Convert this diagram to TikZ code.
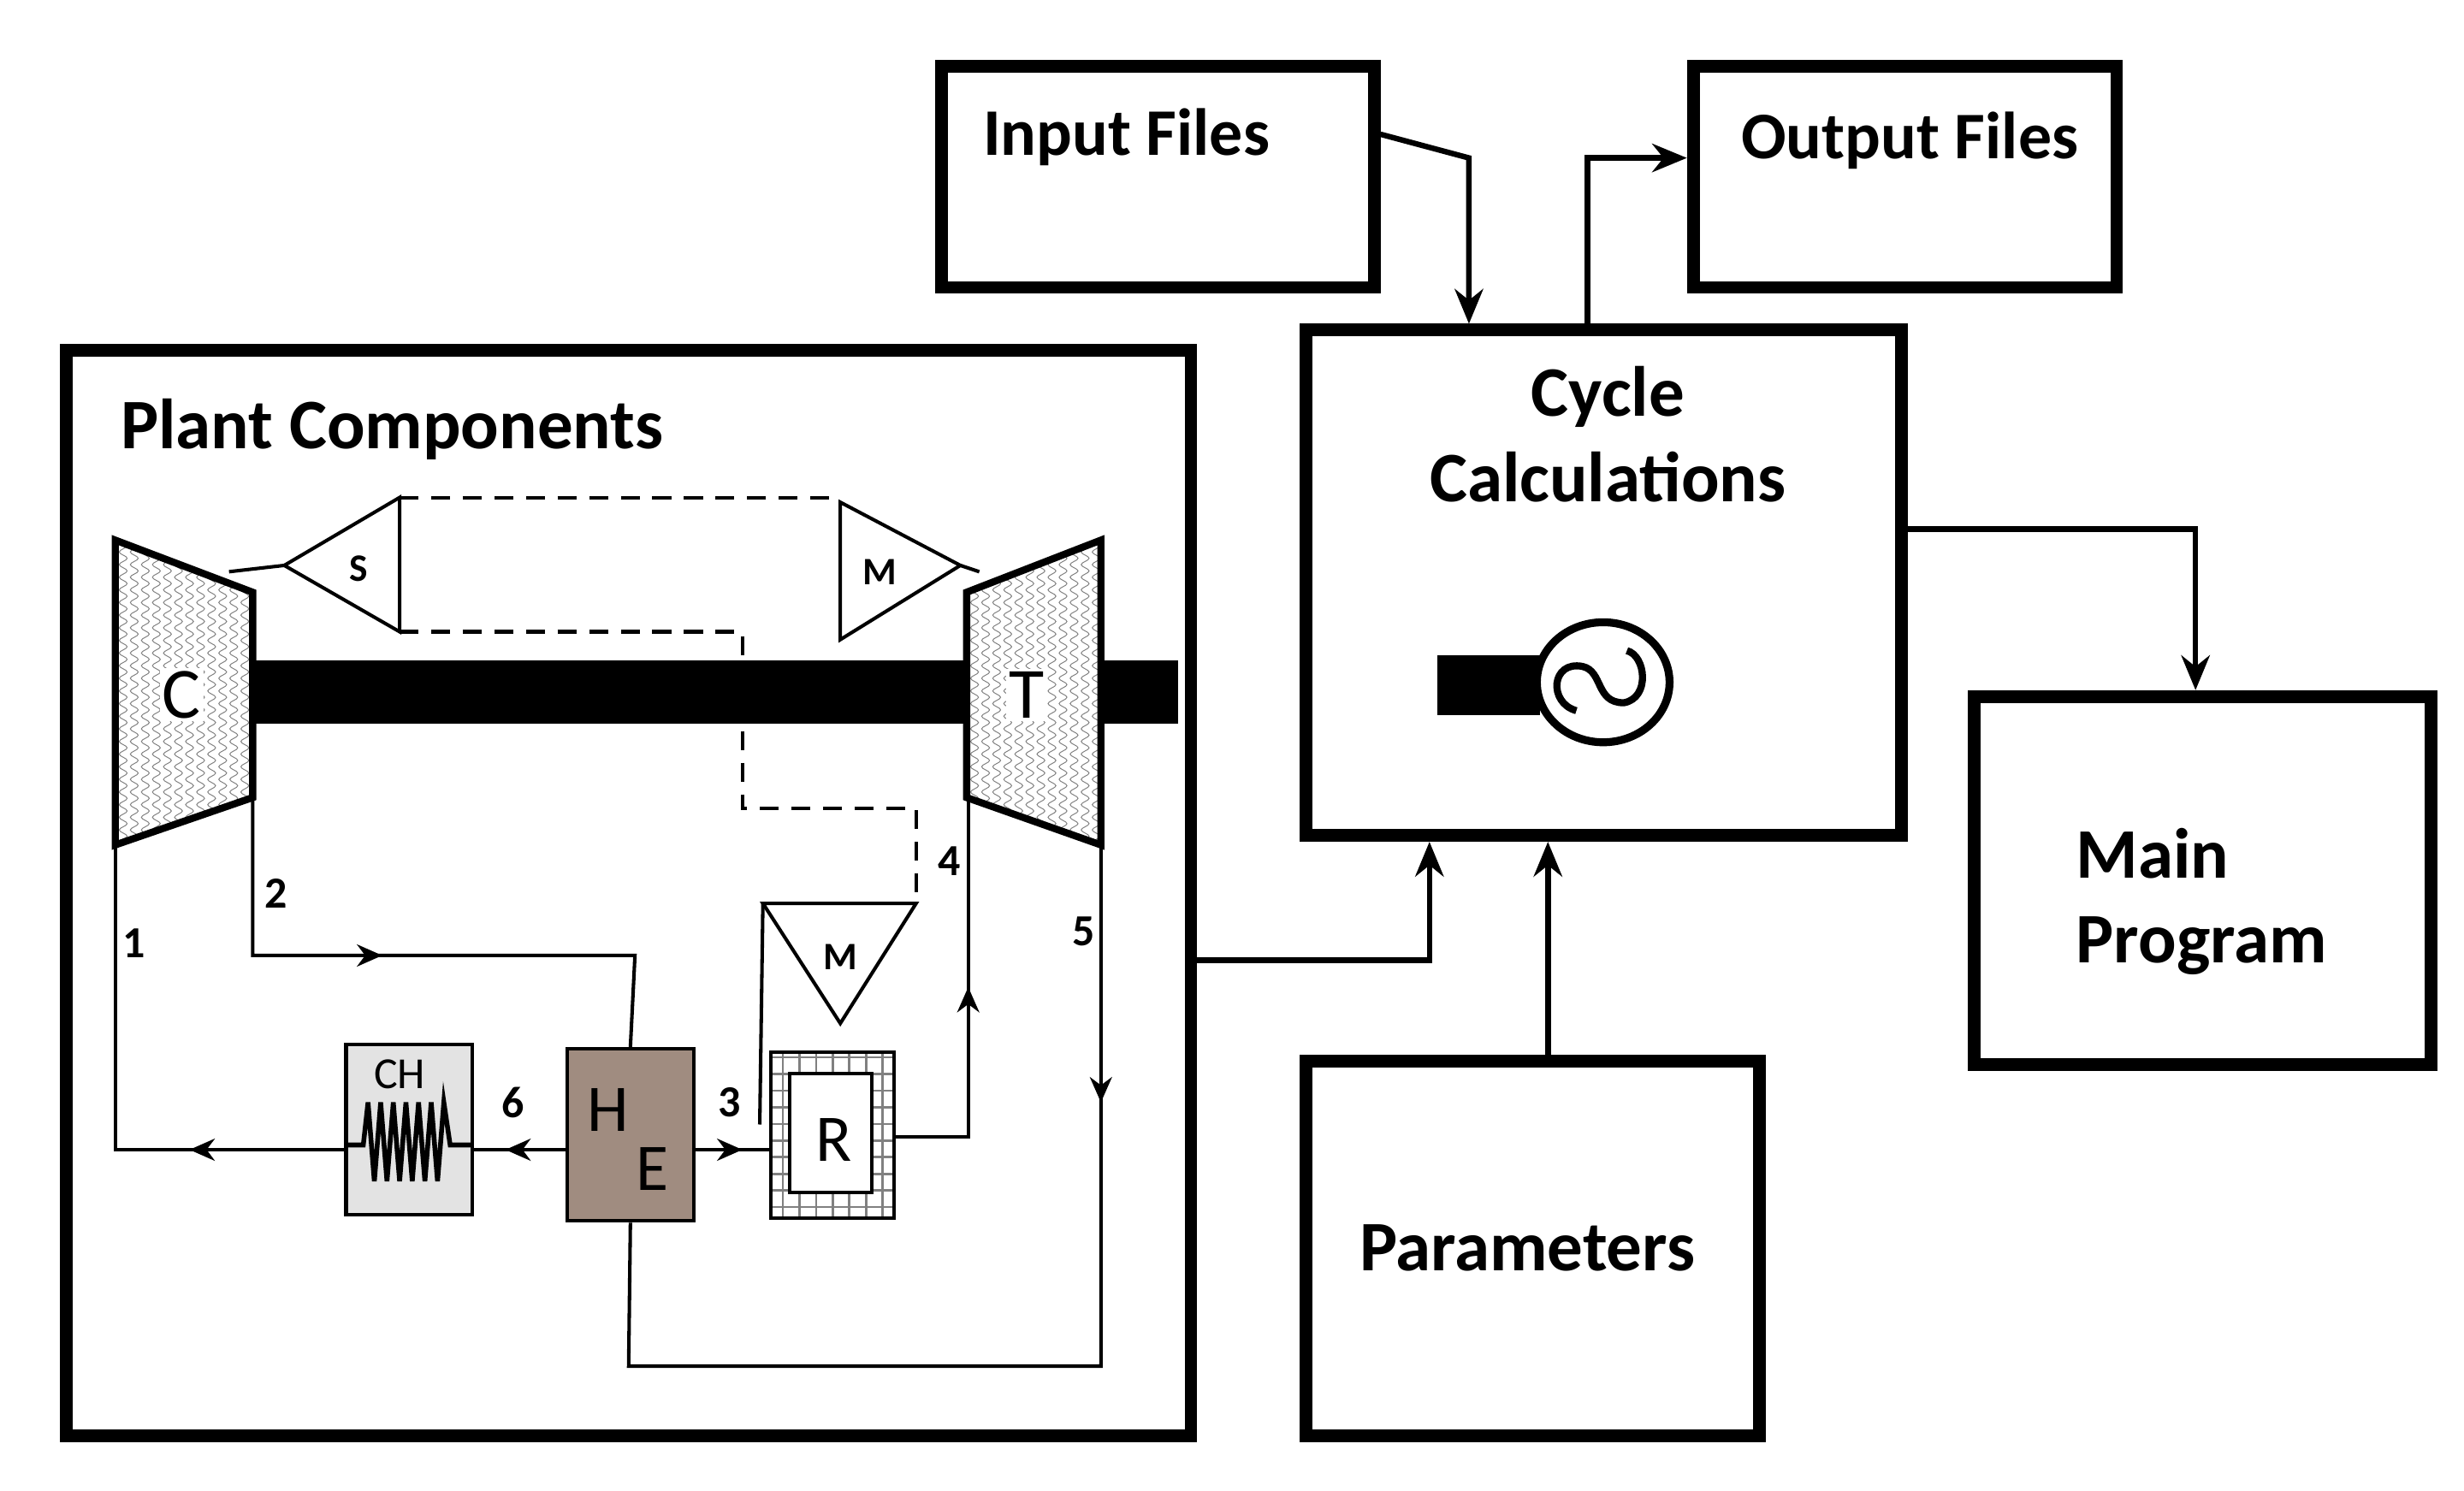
\documentclass[tikz,border=0pt]{standalone}
\usepackage{fontspec}
\setmainfont{Carlito}
\usetikzlibrary{arrows.meta,decorations.pathmorphing,patterns}
\begin{document}
\begin{tikzpicture}[
  box/.style={draw, line width=0.8mm, anchor=north west, inner sep=0pt},
  big/.style={font=\fontsize{12.8}{15.3}\selectfont\bfseries, align=left},
  conn/.style={line width=0.35mm, -{Stealth[length=2.2mm,width=1.8mm]}},
  thin/.style={line width=0.22mm},
  mid/.style={line width=0.22mm, -{Stealth[length=1.6mm,width=1.4mm]}},
  dashln/.style={line width=0.22mm, dash pattern=on 1.2mm off 0.8mm},
  lab/.style={font=\fontsize{8}{9}\selectfont\bfseries},
  wav/.style={gray, line width=0.15pt, decorate, decoration={snake, segment length=0.8mm, amplitude=0.25mm}}
]
\useasboundingbox (0,0) rectangle (15.6,-9.436);
\fill[white] (0,0) rectangle (15.6,-9.436);

% top-level boxes
\node[box, minimum width=2.74cm, minimum height=1.40cm] (inp) at (5.92,-0.38) {};
\node[big, anchor=west, font=\fontsize{12}{14}\selectfont\bfseries] (inpt) at (6.10,-0.87) {Input Files};
\node[box, minimum width=2.68cm, minimum height=1.40cm] (out) at (10.68,-0.38) {};
\node[big, anchor=west, font=\fontsize{12}{14}\selectfont\bfseries] (outt) at (10.90,-0.89) {Output Files};
\node[box, minimum width=3.77cm, minimum height=3.20cm] (cyc) at (8.23,-2.05) {};
\node[big, align=center] (cyct) at (10.18,-2.75) {Cycle\\Calculations};
\node[box, minimum width=2.89cm, minimum height=2.33cm] (mainp) at (12.46,-4.37) {};
\node[big, anchor=west] (maint) at (13.02,-5.71) {Main\\Program};
\node[box, minimum width=2.87cm, minimum height=2.37cm] (par) at (8.23,-6.68) {};
\node[big] (part) at (9.67,-7.90) {Parameters};
\node[box, minimum width=7.12cm, minimum height=6.87cm] (plant) at (0.38,-2.18) {};
\node[big, anchor=west] (plantt) at (0.64,-2.72) {Plant Components};

% generator
\fill (9.10,-4.15) rectangle (9.75,-4.53);
\draw[line width=0.5mm, fill=white] (10.15,-4.32) ellipse (0.42 and 0.38);
\draw[line width=0.45mm] (9.98,-4.50) .. controls (9.80,-4.45) and (9.82,-4.18) .. (10.02,-4.22)
  .. controls (10.15,-4.25) and (10.10,-4.45) .. (10.28,-4.45)
  .. controls (10.45,-4.42) and (10.42,-4.15) .. (10.30,-4.12);

% connectors between blocks
\coordinate (c1) at (9.30,-1.00);
\draw[conn] (inp.east |- 0,-0.85) -- (c1) -- (c1 |- cyc.north);
\coordinate (c2) at (10.05,-1.00);
\draw[conn] (c2 |- cyc.north) -- (c2) -- (c2 -| out.west);
\coordinate (c3) at (13.90,-3.35);
\draw[conn] (cyc.east |- c3) -- (c3) -- (c3 |- mainp.north);
\coordinate (c4) at (9.05,-6.08);
\draw[conn] (plant.east |- c4) -- (c4) -- (c4 |- cyc.south);
\coordinate (c5) at (9.80,-6.68);
\draw[conn] (c5) -- (c5 |- cyc.south);

% shaft
\fill (1.60,-4.18) rectangle (7.46,-4.58);

% compressor
\begin{scope}
\clip (0.73,-3.42) -- (1.60,-3.75) -- (1.60,-5.05) -- (0.73,-5.35) -- cycle;
\fill[white] (0.7,-3.4) rectangle (1.6,-5.4);
\foreach \x in {0.78,0.85,...,1.60} \draw[wav] (\x,-3.35) -- (\x,-5.45);
\end{scope}
\draw[line width=0.45mm] (0.73,-3.42) -- (1.60,-3.75) -- (1.60,-5.05) -- (0.73,-5.35) -- cycle;
\node[font=\fontsize{13}{14}\selectfont, fill=white, inner sep=0.5pt] (C) at (1.15,-4.40) {C};
% turbine
\begin{scope}
\clip (6.12,-3.75) -- (6.97,-3.42) -- (6.97,-5.35) -- (6.12,-5.05) -- cycle;
\fill[white] (6.1,-3.4) rectangle (7.0,-5.4);
\foreach \x in {6.17,6.24,...,6.97} \draw[wav] (\x,-3.35) -- (\x,-5.45);
\end{scope}
\draw[line width=0.45mm] (6.12,-3.75) -- (6.97,-3.42) -- (6.97,-5.35) -- (6.12,-5.05) -- cycle;
\node[font=\fontsize{13}{14}\selectfont, fill=white, inner sep=0.5pt] (T) at (6.50,-4.40) {T};

% S and M triangles
\draw[thin] (1.45,-3.62) -- (1.80,-3.58);
\draw[thin] (1.80,-3.58) -- (2.53,-3.15) -- (2.53,-4.00) -- cycle;
\node[lab, font=\fontsize{7}{8}\selectfont\bfseries] (S) at (2.27,-3.60) {S};
\draw[thin] (6.08,-3.58) -- (5.32,-3.18) -- (5.32,-4.05) -- cycle;
\draw[thin] (6.08,-3.58) -- (6.20,-3.62);
\node[lab, font=\fontsize{7}{8}\selectfont\bfseries] (M1) at (5.57,-3.62) {M};
\draw[dashln] (2.53,-3.15) -- (5.32,-3.15);
\draw[dashln] (2.53,-4.00) -- (4.70,-4.00) -- (4.70,-5.12) -- (5.80,-5.12) -- (5.80,-5.72);
\draw[thin] (4.83,-5.72) -- (5.80,-5.72) -- (5.32,-6.48) -- cycle;
\node[lab, font=\fontsize{7}{8}\selectfont\bfseries] (M2) at (5.32,-6.06) {M};
\draw[thin] (4.83,-5.72) -- (4.81,-7.12);

% components
\node[draw, thin, fill=gray!22, minimum width=0.80cm, minimum height=1.08cm, anchor=north west, inner sep=0pt] (CH) at (2.18,-6.60) {};
\node[font=\fontsize{8}{9}\selectfont] at (2.53,-6.80) {CH};
\draw[line width=0.3mm] (2.20,-7.25) -- (2.30,-7.25) -- (2.33,-6.98) -- (2.37,-7.48) -- (2.41,-6.98) -- (2.45,-7.48) -- (2.49,-6.98) -- (2.53,-7.48) -- (2.57,-6.98) -- (2.61,-7.48) -- (2.65,-6.98) -- (2.69,-7.48) -- (2.73,-6.98) -- (2.77,-7.48) -- (2.81,-6.98) -- (2.85,-7.25) -- (2.98,-7.25);
\node[draw, thin, fill={rgb,255:red,160;green,140;blue,128}, minimum width=0.80cm, minimum height=1.09cm, anchor=north west, inner sep=0pt] (HE) at (3.58,-6.63) {};
\node[font=\fontsize{12}{13}\selectfont] at (3.85,-7.03) {H};
\node[font=\fontsize{12}{13}\selectfont] at (4.13,-7.40) {E};
\node[draw, thin, pattern=grid, pattern color=gray, minimum width=0.78cm, minimum height=1.05cm, anchor=north west, inner sep=0pt] (R) at (4.87,-6.65) {};
\draw[thin, fill=white] (5.00,-6.80) rectangle (5.52,-7.55);
\node[font=\fontsize{12}{13}\selectfont] at (5.28,-7.22) {R};

% flow lines
\draw[thin] (1.60,-5.05) -- (1.60,-6.05) -- (4.02,-6.05) -- (HE.north);
\draw[mid] (1.60,-6.05) -- (2.42,-6.05);
\draw[thin] (0.73,-5.35) -- (0.73,-7.28) -- (CH.west |- 0,-7.28);
\draw[mid] (1.80,-7.28) -- (1.20,-7.28);
\draw[thin] (HE.west |- 0,-7.28) -- (CH.east |- 0,-7.28);
\draw[mid] (3.58,-7.28) -- (3.20,-7.28);
\draw[thin] (HE.east |- 0,-7.28) -- (R.west |- 0,-7.28);
\draw[mid] (4.38,-7.28) -- (4.70,-7.28);
\draw[thin] (R.east |- 0,-7.20) -- (6.13,-7.20) -- (6.13,-5.05);
\draw[mid] (6.13,-7.20) -- (6.13,-6.25);
\draw[thin] (6.97,-5.35) -- (6.97,-8.65) -- (3.98,-8.65) -- (HE.south);
\draw[mid] (6.97,-5.35) -- (6.97,-6.98);

% labels
\node[lab] at (0.85,-5.97) {1};
\node[lab] at (1.75,-5.66) {2};
\node[lab] at (4.62,-6.98) {3};
\node[lab] at (6.01,-5.45) {4};
\node[lab] at (6.86,-5.90) {5};
\node[lab] at (3.25,-6.98) {6};
\end{tikzpicture}
\end{document}
